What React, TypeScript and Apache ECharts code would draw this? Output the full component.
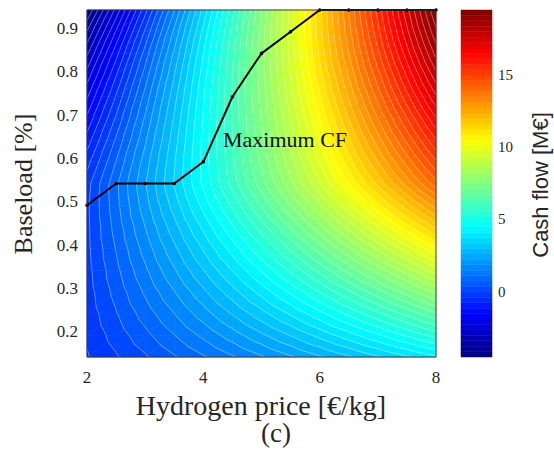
import React, { useEffect, useRef } from "react";
import * as echarts from "echarts";

// Hydrogen price [€/kg] (grid columns)
const prices = [2, 2.5, 3, 3.5, 4, 4.5, 5, 5.5, 6, 6.5, 7, 7.5, 8];
// Baseload (grid rows)
const baseloads = [0.14, 0.19, 0.24, 0.29, 0.34, 0.39, 0.44, 0.49, 0.54, 0.59, 0.64, 0.69, 0.74, 0.79, 0.84, 0.89, 0.94];
// Cash flow [M€], one row per baseload, one column per price
const cashFlow = [
  [-0.50, -0.13, 0.24, 0.62, 0.99, 1.37, 1.74, 2.11, 2.49, 2.86, 3.24, 3.61, 3.98],
  [-0.40, 0.08, 0.55, 1.03, 1.50, 1.98, 2.46, 2.93, 3.41, 3.88, 4.36, 4.83, 5.31],
  [-0.32, 0.26, 0.84, 1.41, 1.99, 2.57, 3.15, 3.72, 4.30, 4.88, 5.45, 6.03, 6.61],
  [-0.26, 0.42, 1.10, 1.77, 2.45, 3.13, 3.81, 4.49, 5.17, 5.85, 6.52, 7.20, 7.88],
  [-0.22, 0.56, 1.34, 2.12, 2.90, 3.68, 4.46, 5.24, 6.02, 6.80, 7.58, 8.36, 9.14],
  [-0.19, 0.69, 1.57, 2.45, 3.33, 4.21, 5.10, 5.98, 6.86, 7.74, 8.62, 9.50, 10.38],
  [-0.18, 0.81, 1.79, 2.77, 3.75, 4.74, 5.72, 6.70, 7.69, 8.67, 9.65, 10.64, 11.62],
  [-0.17, 0.91, 2.00, 3.08, 4.17, 5.25, 6.34, 7.42, 8.50, 9.59, 10.67, 11.76, 12.84],
  [-0.24, 0.95, 2.13, 3.32, 4.50, 5.69, 6.88, 8.06, 9.25, 10.43, 11.62, 12.81, 13.99],
  [-0.61, 0.68, 1.97, 3.25, 4.54, 5.83, 7.12, 8.40, 9.69, 10.98, 12.27, 13.55, 14.84],
  [-1.04, 0.35, 1.73, 3.12, 4.51, 5.90, 7.29, 8.68, 10.07, 11.46, 12.85, 14.24, 15.62],
  [-1.51, -0.02, 1.47, 2.96, 4.45, 5.94, 7.43, 8.92, 10.41, 11.90, 13.39, 14.88, 16.37],
  [-2.01, -0.42, 1.18, 2.77, 4.36, 5.95, 7.55, 9.14, 10.73, 12.32, 13.91, 15.51, 17.10],
  [-2.55, -0.86, 0.84, 2.53, 4.22, 5.92, 7.61, 9.30, 11.00, 12.69, 14.38, 16.08, 17.77],
  [-3.15, -1.35, 0.45, 2.24, 4.04, 5.83, 7.63, 9.42, 11.22, 13.01, 14.81, 16.60, 18.40],
  [-3.81, -1.92, -0.02, 1.88, 3.77, 5.67, 7.57, 9.46, 11.36, 13.25, 15.15, 17.05, 18.94],
  [-4.58, -2.59, -0.59, 1.41, 3.41, 5.41, 7.41, 9.40, 11.40, 13.40, 15.40, 17.40, 19.39],
];
// Maximum cash-flow path
const maxCfPrice = [2, 2.5, 3, 3.5, 4, 4.5, 5, 5.5, 6, 6.5, 7, 7.5, 8];
const maxCfBaseload = [0.49, 0.54, 0.54, 0.54, 0.59, 0.74, 0.84, 0.89, 0.94, 0.94, 0.94, 0.94, 0.94];
// Tick labels
const xTickValues = [2, 4, 6, 8];
const yTickValues = [0.2, 0.3, 0.4, 0.5, 0.6, 0.7, 0.8, 0.9];
const colorbarTicks = [0, 5, 10, 15];
const levelCount = 64;

const SERIF = "'Liberation Serif', serif";
const SANS = "'Liberation Sans', sans-serif";
const TXT = "#262626";

function jet(t: number): string {
  const c = (x: number) => Math.max(0, Math.min(1, x));
  const r = c(Math.min(4 * t - 1.5, -4 * t + 4.5));
  const g = c(Math.min(4 * t - 0.5, -4 * t + 3.5));
  const b = c(Math.min(4 * t + 0.5, -4 * t + 2.5));
  return `rgb(${Math.round(r * 255)},${Math.round(g * 255)},${Math.round(b * 255)})`;
}

type P = { x: number; y: number; v: number };

function clipPoly(poly: P[], L: number, above: boolean): P[] {
  const out: P[] = [];
  for (let k = 0; k < poly.length; k++) {
    const a = poly[k];
    const b = poly[(k + 1) % poly.length];
    const ina = above ? a.v >= L : a.v <= L;
    const inb = above ? b.v >= L : b.v <= L;
    if (ina) out.push(a);
    if (ina !== inb) {
      const t = (L - a.v) / (b.v - a.v);
      out.push({ x: a.x + t * (b.x - a.x), y: a.y + t * (b.y - a.y), v: L });
    }
  }
  return out;
}

export default function App() {
  const ref = useRef<HTMLDivElement>(null);

  useEffect(() => {
    if (!ref.current) return;
    const chart = echarts.init(ref.current, null, { renderer: "svg" });

    const all = cashFlow.flat();
    const lo = Math.min(...all);
    const hi = Math.max(...all);
    const step = (hi - lo) / levelCount;

    const cells: number[][] = [];
    for (let j = 0; j < baseloads.length - 1; j++) {
      for (let i = 0; i < prices.length - 1; i++) {
        cells.push([prices[i], baseloads[j], i, j]);
      }
    }

    const triangles = (api: any): P[][] => {
      const i = api.value(2) as number;
      const j = api.value(3) as number;
      const corner = (ii: number, jj: number): P => {
        const pt = api.coord([prices[ii], baseloads[jj]]);
        return { x: pt[0], y: pt[1], v: cashFlow[jj][ii] };
      };
      const a = corner(i, j), b = corner(i + 1, j), c = corner(i + 1, j + 1), d = corner(i, j + 1);
      return [[a, b, c], [a, c, d]];
    };

    const fillItem = (_params: any, api: any) => {
      const children: any[] = [];
      for (const tri of triangles(api)) {
        const vs = tri.map((p) => p.v);
        const vmin = Math.min(...vs), vmax = Math.max(...vs);
        const k0 = Math.max(0, Math.floor((vmin - lo) / step));
        const k1 = Math.min(levelCount - 1, Math.floor((vmax - lo) / step));
        for (let k = k0; k <= k1; k++) {
          const L0 = lo + k * step, L1 = lo + (k + 1) * step;
          let poly = clipPoly(tri, L0, true);
          if (poly.length < 3) continue;
          poly = clipPoly(poly, L1, false);
          if (poly.length < 3) continue;
          const col = jet((k + 0.5) / levelCount);
          children.push({
            type: "polygon",
            shape: { points: poly.map((p) => [p.x, p.y]) },
            style: { fill: col, stroke: col, lineWidth: 0.6 },
            silent: true,
          });
        }
      }
      return { type: "group", children };
    };

    const lineItem = (_params: any, api: any) => {
      const children: any[] = [];
      for (const tri of triangles(api)) {
        const vs = tri.map((p) => p.v);
        const vmin = Math.min(...vs), vmax = Math.max(...vs);
        for (let k = 1; k < levelCount; k++) {
          const L = lo + k * step;
          if (L <= vmin || L >= vmax) continue;
          const pts: number[][] = [];
          for (let e = 0; e < 3; e++) {
            const a = tri[e], b = tri[(e + 1) % 3];
            if ((a.v - L) * (b.v - L) < 0) {
              const t = (L - a.v) / (b.v - a.v);
              pts.push([a.x + t * (b.x - a.x), a.y + t * (b.y - a.y)]);
            }
          }
          if (pts.length === 2) {
            children.push({
              type: "line",
              shape: { x1: pts[0][0], y1: pts[0][1], x2: pts[1][0], y2: pts[1][1] },
              style: { stroke: "rgba(255,255,255,0.5)", lineWidth: 0.7 },
              silent: true,
            });
          }
        }
      }
      return { type: "group", children };
    };

    const bands: number[][] = [];
    for (let k = 0; k < levelCount; k++) bands.push([0.5, lo + (k + 0.5) * step, k]);

    const barItem = (_params: any, api: any) => {
      const k = api.value(2) as number;
      const p0 = api.coord([0, lo + (k + 1) * step]);
      const p1 = api.coord([1, lo + k * step]);
      const col = jet((k + 0.5) / levelCount);
      return {
        type: "rect",
        shape: { x: p0[0], y: p0[1], width: p1[0] - p0[0], height: p1[1] - p0[1] },
        style: { fill: col, stroke: col, lineWidth: 0.5 },
        silent: true,
      };
    };

    const hiddenAxisParts = {
      axisLine: { show: false },
      axisTick: { show: false },
      splitLine: { show: false },
      axisLabel: { show: false },
    };

    const option: any = {
      animation: false,
      grid: [
        { left: 87, top: 10, width: 349, height: 347 },
        { left: 461, top: 10, width: 31, height: 347 },
      ],
      xAxis: [
        { type: "value", gridIndex: 0, min: 2, max: 8, interval: 2, ...hiddenAxisParts },
        { type: "value", gridIndex: 1, min: 0, max: 1, show: false },
      ],
      yAxis: [
        {
          type: "value",
          gridIndex: 0,
          min: baseloads[0],
          max: baseloads[baseloads.length - 1],
          splitNumber: 8,
          ...hiddenAxisParts,
        },
        {
          type: "value",
          gridIndex: 1,
          position: "right",
          min: lo,
          max: hi,
          splitNumber: 5,
          ...hiddenAxisParts,
        },
      ],
      series: [
        {
          type: "custom",
          xAxisIndex: 0,
          yAxisIndex: 0,
          data: cells,
          encode: { x: 0, y: 1 },
          renderItem: fillItem,
          silent: true,
          z: 1,
        },
        {
          type: "custom",
          xAxisIndex: 0,
          yAxisIndex: 0,
          data: cells,
          encode: { x: 0, y: 1 },
          renderItem: lineItem,
          silent: true,
          z: 2,
        },
        {
          type: "line",
          xAxisIndex: 0,
          yAxisIndex: 0,
          data: maxCfPrice.map((p, i) => [p, maxCfBaseload[i]]),
          lineStyle: { color: "#000", width: 2 },
          itemStyle: { color: "#000" },
          symbol: "circle",
          symbolSize: 3.5,
          showSymbol: true,
          clip: false,
          z: 5,
        },
        {
          type: "custom",
          xAxisIndex: 1,
          yAxisIndex: 1,
          data: bands,
          encode: { x: 0, y: 1 },
          renderItem: barItem,
          silent: true,
          z: 1,
        },
      ],
    };

    chart.setOption(option);

    // Tick labels placed through the axes' own scales
    const tickTexts: any[] = [];
    for (const v of xTickValues) {
      const px = chart.convertToPixel({ xAxisIndex: 0 }, v) as number;
      tickTexts.push({
        type: "text", z: 100, x: px, y: 377, silent: true,
        style: { text: String(v), font: `17px ${SERIF}`, fill: TXT, align: "center", verticalAlign: "middle" },
      });
    }
    for (const v of yTickValues) {
      const py = chart.convertToPixel({ yAxisIndex: 0 }, v) as number;
      tickTexts.push({
        type: "text", z: 100, x: 78, y: py + 1, silent: true,
        style: { text: v.toFixed(1), font: `17px ${SERIF}`, fill: TXT, align: "right", verticalAlign: "middle" },
      });
    }
    for (const v of colorbarTicks) {
      const py = chart.convertToPixel({ yAxisIndex: 1 }, v) as number;
      tickTexts.push({
        type: "text", z: 100, x: 498, y: py + 1, silent: true,
        style: { text: String(v), font: `15px ${SERIF}`, fill: TXT, align: "left", verticalAlign: "middle" },
      });
    }

    chart.setOption({
      graphic: [
        {
          type: "rect",
          z: 100,
          silent: true,
          shape: { x: 87, y: 10, width: 349, height: 347 },
          style: { fill: "none", stroke: "#3a3a3a", lineWidth: 1 },
        },
        {
          type: "text",
          z: 100,
          x: 223,
          y: 139,
          style: { text: "Maximum CF", font: `22px ${SERIF}`, fill: "#111", align: "left", verticalAlign: "middle" },
        },
        {
          type: "text",
          z: 100,
          x: 261,
          y: 405,
          style: { text: "Hydrogen price [€/kg]", font: `28px ${SERIF}`, fill: TXT, align: "center", verticalAlign: "middle" },
        },
        {
          type: "text",
          z: 100,
          x: 276,
          y: 433,
          style: { text: "(c)", font: `27px ${SERIF}`, fill: TXT, align: "center", verticalAlign: "middle" },
        },
        {
          type: "text",
          z: 100,
          x: 23,
          y: 184,
          rotation: Math.PI / 2,
          style: { text: "Baseload [%]", font: `26px ${SERIF}`, fill: TXT, align: "center", verticalAlign: "middle" },
        },
        {
          type: "text",
          z: 100,
          x: 540,
          y: 185,
          rotation: Math.PI / 2,
          style: { text: "Cash flow [M€]", font: `22px ${SANS}`, fill: TXT, align: "center", verticalAlign: "middle" },
        },
        ...tickTexts,
      ],
    });

    return () => chart.dispose();
  }, []);

  return <div ref={ref} style={{ width: 554, height: 451, position: "absolute", left: 0, top: 0 }} />;
}
